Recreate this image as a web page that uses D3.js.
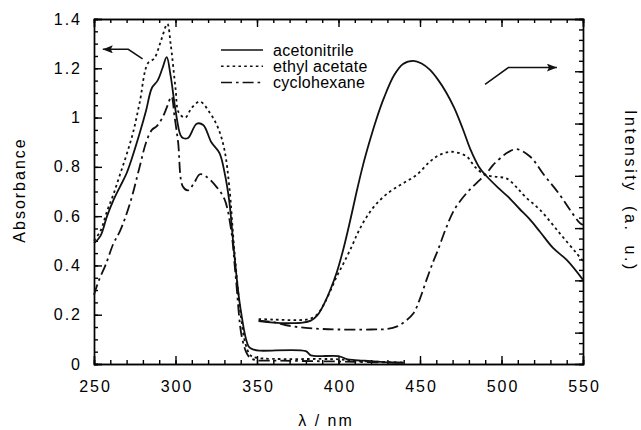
<!DOCTYPE html>
<html>
<head>
<meta charset="utf-8">
<script src="https://cdn.jsdelivr.net/npm/d3@7"></script>
<style>
  body { margin: 0; background: #fff; }
  svg { display: block; font-family: "Liberation Sans", Arial, sans-serif; }
  .tick text { font-size: 16px; letter-spacing: 2px; fill: #000; }
  .axis path, .axis line { stroke: #000; stroke-width: 1.4; }
  .curve { fill: none; stroke: #111; stroke-width: 1.8; stroke-linejoin: round; }
</style>
</head>
<body>
<svg id="chart" width="641" height="430"></svg>
<script>
// wavelength ticks (nm)
const xMajor = [250, 300, 350, 400, 450, 500, 550];
const absMajor = [0, 0.2, 0.4, 0.6, 0.8, 1, 1.2, 1.4];

const solvents = ['acetonitrile', 'ethyl acetate', 'cyclohexane'];

// absorption spectra [nm, absorbance]
const acnAbs = [[250,0.49],[254,0.52],[258,0.60],[262,0.666],[266,0.72],[270,0.774],[274,0.85],
  [278,0.936],[282,1.03],[285.5,1.12],[289,1.15],[292,1.2],[294.6,1.245],[297,1.17],[300,1.03],
  [303,0.93],[304.6,0.917],[307.7,0.917],[313,0.975],[317,0.97],[322,0.90],[327,0.856],[330,0.78],
  [333,0.66],[336,0.45],[340,0.22],[345,0.07],[348,0.058],[352,0.054],[380,0.052],[383,0.035],
  [400,0.032],[405,0.02],[410,0.016],[420,0.012],[430,0.007],[440,0.005]];
const etacAbs = [[250,0.50],[254,0.54],[258,0.62],[262,0.69],[266,0.77],[270,0.85],[274,0.94],
  [278,1.06],[283,1.22],[287,1.24],[291,1.31],[295,1.38],[297,1.3],[300,1.12],[302,1.02],[306,1.0],
  [310,1.04],[315,1.065],[321,1.02],[326,0.96],[330,0.87],[333,0.72],[336,0.47],[340,0.2],[343,0.08],
  [346,0.035],[350,0.025],[400,0.019],[410,0.012],[420,0.01],[440,0.006]];
const chxAbs = [[250,0.28],[253,0.34],[257,0.40],[262,0.49],[266,0.54],[272,0.65],[278,0.80],
  [282,0.90],[285.5,0.95],[288.5,0.965],[292,1.0],[294.6,1.04],[297.5,1.085],[299.5,1.0],[301.6,0.90],
  [304.5,0.72],[307.7,0.705],[311,0.73],[315,0.77],[319,0.76],[325,0.72],[330,0.67],[334,0.55],
  [337,0.35],[341,0.1],[345,0.03],[349,0.016],[360,0.014],[400,0.01],[440,0.005]];

// emission spectra [nm, intensity a.u.]
const acnEm = [[351,0.82],[360,0.79],[370,0.78],[378,0.79],[383,0.83],[387,0.93],[391,1.14],
  [395,1.42],[399,1.76],[403,2.2],[407,2.72],[411,3.28],[415,3.8],[419,4.25],[423,4.66],[428,5.1],
  [434,5.52],[439.6,5.74],[446,5.80],[451,5.75],[456,5.63],[461,5.44],[466,5.2],[471,4.9],
  [476,4.52],[481,4.1],[486,3.78],[490,3.62],[498,3.37],[504,3.2],[511,2.97],[517,2.78],
  [523.6,2.53],[531.6,2.22],[540,1.99],[550,1.61]];
const etacEm = [[351,0.86],[360,0.85],[375,0.84],[382,0.86],[387,0.95],[391,1.14],[395,1.4],
  [399,1.68],[403,1.92],[408,2.24],[412,2.52],[417,2.8],[423.4,3.07],[431.6,3.30],[439.8,3.46],
  [448,3.62],[456,3.87],[462,4.0],[469.4,4.06],[478.6,3.97],[483.7,3.77],[490,3.62],[497,3.58],
  [503,3.55],[509,3.39],[514.5,3.20],[523.6,2.95],[536,2.49],[546,2.12],[550,1.97]];
const chxEm = [[351,0.83],[360,0.80],[370,0.73],[380,0.69],[390,0.67],[400,0.66],[420,0.66],
  [430,0.67],[436,0.72],[441,0.82],[446,0.97],[450,1.25],[454,1.61],[458,1.95],[461,2.18],[466,2.6],
  [471,2.95],[478.6,3.27],[485,3.47],[490.9,3.65],[494.9,3.81],[504,4.05],[509.3,4.11],[517.5,3.97],
  [526,3.62],[535,3.27],[542,2.95],[548,2.70],[550,2.66]];

const dashes = ['none', '2.6,3.2', '11,4,2.6,4'];

const svg = d3.select('#chart');
const L = 94, R = 583, T = 19, B = 364;

const x = d3.scaleLinear().domain([250, 550]).range([L, R]);
const yA = d3.scaleLinear().domain([0, 1.4]).range([B, T]);
const yI = d3.scaleLinear().domain([0, 6.6]).range([B, T]);

// minor ticks first
const minor = (axis, vals) => axis.tickValues(vals).tickSize(-4).tickFormat('');
svg.append('g').attr('class', 'axis').attr('transform', `translate(0,${B})`)
  .call(minor(d3.axisBottom(x), d3.range(250, 551, 10)));
svg.append('g').attr('class', 'axis').attr('transform', `translate(0,${T})`)
  .call(minor(d3.axisTop(x), d3.range(250, 551, 10)));
svg.append('g').attr('class', 'axis').attr('transform', `translate(${L},0)`)
  .call(minor(d3.axisLeft(yA), d3.range(0, 1.401, 0.05)));
svg.append('g').attr('class', 'axis').attr('transform', `translate(${R},0)`)
  .call(minor(d3.axisRight(yI), d3.range(0, 6.601, 0.2)));

// major ticks + labels
svg.append('g').attr('class', 'axis').attr('transform', `translate(0,${B})`)
  .call(d3.axisBottom(x).tickValues(xMajor).tickSize(-8).tickPadding(17).tickFormat(d3.format('d')))
  .selectAll('text').attr('dx', '1px');
svg.append('g').attr('class', 'axis').attr('transform', `translate(0,${T})`)
  .call(d3.axisTop(x).tickValues(xMajor).tickSize(-8).tickFormat(''));
svg.append('g').attr('class', 'axis').attr('transform', `translate(${L},0)`)
  .call(d3.axisLeft(yA).tickValues(absMajor).tickSize(-8).tickPadding(12).tickFormat(d3.format('.1~f')));
svg.append('g').attr('class', 'axis').attr('transform', `translate(${R},0)`)
  .call(d3.axisRight(yI).tickValues(d3.range(0.6, 6.61, 1)).tickSize(-8).tickFormat(''));

svg.selectAll('.axis .domain').attr('stroke-width', 1.6);

// curves
const lineA = d3.line().x(d => x(d[0])).y(d => yA(d[1])).curve(d3.curveCatmullRom.alpha(0.5));
const lineI = d3.line().x(d => x(d[0])).y(d => yI(d[1])).curve(d3.curveCatmullRom.alpha(0.5));

[acnAbs, etacAbs, chxAbs].forEach((s, i) => {
  svg.append('path').attr('class', 'curve').attr('d', lineA(s))
    .attr('stroke-dasharray', dashes[i]);
});
[acnEm, etacEm, chxEm].forEach((s, i) => {
  svg.append('path').attr('class', 'curve').attr('d', lineI(s))
    .attr('stroke-dasharray', dashes[i]);
});

// legend
const lg = svg.append('g').attr('transform', 'translate(221,50)');
solvents.forEach((name, i) => {
  lg.append('line').attr('x1', 0).attr('x2', 42).attr('y1', i * 16.3).attr('y2', i * 16.3)
    .attr('stroke', '#111').attr('stroke-width', 1.5).attr('stroke-dasharray', dashes[i]);
  lg.append('text').attr('x', 52).attr('y', i * 16.3 + 5.5)
    .attr('font-size', 16).attr('letter-spacing', '0.3px').text(name);
});

// arrows pointing to each axis
svg.append('defs').append('marker').attr('id', 'head')
  .attr('viewBox', '0 0 10 8').attr('refX', 10).attr('refY', 4)
  .attr('markerWidth', 10).attr('markerHeight', 8).attr('markerUnits', 'userSpaceOnUse')
  .attr('orient', 'auto')
  .append('path').attr('d', 'M0,0L10,4L0,8L2,4Z').attr('fill', '#111');

const arrow = d3.line();
svg.append('path')
  .attr('d', arrow([[x(279.8), yA(1.238)], [x(271), yA(1.277)], [x(255.4), yA(1.277)]]))
  .attr('fill', 'none').attr('stroke', '#111').attr('stroke-width', 1.5).attr('marker-end', 'url(#head)');
svg.append('path')
  .attr('d', arrow([[x(489.9), yI(5.35)], [x(504.2), yI(5.67)], [x(534), yI(5.67)]]))
  .attr('fill', 'none').attr('stroke', '#111').attr('stroke-width', 1.5).attr('marker-end', 'url(#head)');

// axis titles
svg.append('text').attr('transform', 'translate(25,190) rotate(-90)')
  .attr('text-anchor', 'middle').attr('font-size', 16).attr('letter-spacing', '2px').text('Absorbance');
svg.append('text').attr('transform', 'translate(625,191) rotate(90)')
  .attr('text-anchor', 'middle').attr('font-size', 16).attr('letter-spacing', '2.6px')
  .attr('word-spacing', '6px').text('Intensity (a. u.)');
svg.append('text').attr('x', 326).attr('y', 426)
  .attr('text-anchor', 'middle').attr('font-size', 16).attr('letter-spacing', '2px').text('λ / nm');
</script>
</body>
</html>
